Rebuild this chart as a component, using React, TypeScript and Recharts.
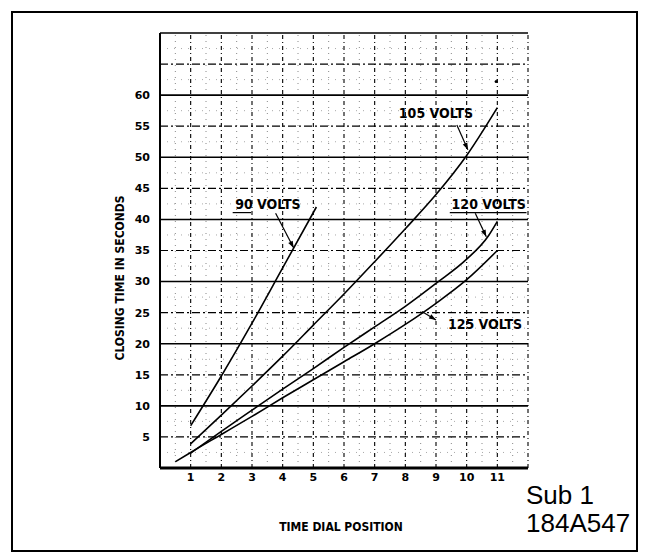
import {
  LineChart,
  Line,
  XAxis,
  YAxis,
  ReferenceLine,
  ReferenceDot,
} from 'recharts';

// dial position (x) vs closing time in seconds (y)
const VOLTS_90 = [
  { dial: 1, sec: 6.8 },
  { dial: 2, sec: 14.8 },
  { dial: 3, sec: 23.3 },
  { dial: 4, sec: 32.2 },
  { dial: 5.1, sec: 42 },
];

const VOLTS_105 = [
  { dial: 1, sec: 3.9 },
  { dial: 2, sec: 8.5 },
  { dial: 3, sec: 13.2 },
  { dial: 4, sec: 18 },
  { dial: 5, sec: 23 },
  { dial: 6, sec: 28 },
  { dial: 7, sec: 33.2 },
  { dial: 8, sec: 38.5 },
  { dial: 9, sec: 44 },
  { dial: 10, sec: 50.3 },
  { dial: 11, sec: 58 },
];

const VOLTS_120 = [
  { dial: 1, sec: 2.4 },
  { dial: 2, sec: 5.9 },
  { dial: 3, sec: 9.3 },
  { dial: 4, sec: 12.7 },
  { dial: 5, sec: 16 },
  { dial: 6, sec: 19.4 },
  { dial: 7, sec: 22.7 },
  { dial: 8, sec: 26 },
  { dial: 9, sec: 29.7 },
  { dial: 10, sec: 33.6 },
  { dial: 10.7, sec: 37.3 },
  { dial: 11, sec: 39.7 },
];

const VOLTS_125 = [
  { dial: 0.5, sec: 1 },
  { dial: 1, sec: 2.5 },
  { dial: 2, sec: 5.4 },
  { dial: 3, sec: 8.3 },
  { dial: 4, sec: 11.3 },
  { dial: 5, sec: 14.2 },
  { dial: 6, sec: 17.1 },
  { dial: 7, sec: 20 },
  { dial: 8, sec: 23.1 },
  { dial: 9, sec: 26.5 },
  { dial: 10, sec: 30.3 },
  { dial: 11, sec: 35 },
];

const SERIES = [
  { name: '90 VOLTS', data: VOLTS_90 },
  { name: '105 VOLTS', data: VOLTS_105 },
  { name: '120 VOLTS', data: VOLTS_120 },
  { name: '125 VOLTS', data: VOLTS_125 },
];

const X_TICKS = [1, 2, 3, 4, 5, 6, 7, 8, 9, 10, 11];
const Y_TICKS = [5, 10, 15, 20, 25, 30, 35, 40, 45, 50, 55, 60];
const GRID_Y = [5, 10, 15, 20, 25, 30, 35, 40, 45, 50, 55, 60, 65, 70];
const GRID_X = [1, 2, 3, 4, 5, 6, 7, 8, 9, 10, 11, 12];
const MINOR_X = [0.5, 1.5, 2.5, 3.5, 4.5, 5.5, 6.5, 7.5, 8.5, 9.5, 10.5, 11.5];
const MINOR_Y = [2.5, 7.5, 12.5, 17.5, 22.5, 27.5, 32.5, 37.5, 42.5, 47.5, 52.5, 57.5, 62.5, 67.5];

// curve call-outs (data units)
const CALLOUTS = [
  { text: '90 VOLTS', x: 3.52, y: 42.5 },
  { text: '105 VOLTS', x: 9.0, y: 57.2 },
  { text: '120 VOLTS', x: 10.72, y: 42.5 },
  { text: '125 VOLTS', x: 10.6, y: 23.2 },
];

// leader lines, arrow tip at the second point
const LEADERS = [
  [{ x: 3.77, y: 41 }, { x: 4.36, y: 35.4 }],
  [{ x: 9.68, y: 55.2 }, { x: 10.04, y: 51.2 }],
  [{ x: 10.28, y: 41 }, { x: 10.64, y: 37.2 }],
  [{ x: 8.54, y: 25.2 }, { x: 9.0, y: 23.8 }],
];

const UNDERLINES = [
  [{ x: 2.37, y: 41.1 }, { x: 2.97, y: 41.1 }],
  [{ x: 9.45, y: 41.1 }, { x: 11.95, y: 41.1 }],
];

const TICK_STYLE = {
  fill: '#000',
  fontSize: 11,
  fontWeight: 'bold',
  fontFamily: 'DejaVu Sans',
};

const calloutLabel = (text: string) => (props: any) => {
  const vb = props.viewBox || {};
  const cx = (vb.x ?? 0) + (vb.width ?? 0) / 2;
  const cy = (vb.y ?? 0) + (vb.height ?? 0) / 2;
  return (
    <text
      x={cx}
      y={cy}
      textAnchor="middle"
      dominantBaseline="central"
      fontFamily="DejaVu Sans Condensed"
      fontWeight="bold"
      fontSize={14}
      fill="#000"
    >
      {text}
    </text>
  );
};

// line with a small filled arrowhead at (x2, y2)
const ArrowLeader = (props: any) => {
  const { x1, y1, x2, y2 } = props;
  if ([x1, y1, x2, y2].some((v) => typeof v !== 'number')) return null;
  const a = Math.atan2(y2 - y1, x2 - x1);
  const len = 7;
  const w = 2.5;
  const bx = x2 - len * Math.cos(a);
  const by = y2 - len * Math.sin(a);
  const px = -Math.sin(a) * w;
  const py = Math.cos(a) * w;
  return (
    <g>
      <line x1={x1} y1={y1} x2={x2} y2={y2} stroke="#000" strokeWidth={1.2} />
      <path
        d={`M${x2},${y2}L${bx + px},${by + py}L${bx - px},${by - py}Z`}
        fill="#000"
      />
    </g>
  );
};

export default function App() {
  return (
    <div
      style={{
        position: 'absolute',
        left: 0,
        top: 0,
        width: 645,
        height: 554,
        background: '#fff',
      }}
    >
      <svg
        width={645}
        height={554}
        style={{ position: 'absolute', left: 0, top: 0 }}
      >
        <rect x={12} y={12} width={625} height={539} fill="none" stroke="#000" strokeWidth={2} />
        <text
          transform="translate(124,278) rotate(-90)"
          textAnchor="middle"
          fontFamily="DejaVu Sans Condensed"
          fontWeight="bold"
          fontSize={12}
          fill="#000"
        >
          CLOSING TIME IN SECONDS
        </text>
        <text
          x={341}
          y={531}
          textAnchor="middle"
          fontFamily="DejaVu Sans Condensed"
          fontWeight="bold"
          fontSize={12}
          fill="#000"
        >
          TIME DIAL POSITION
        </text>
        <text x={526} y={504} fontFamily="Liberation Sans" fontSize={26} fill="#000">
          Sub 1
        </text>
        <text x={526} y={532} fontFamily="Liberation Sans" fontSize={26} fill="#000">
          184A547
        </text>
      </svg>
      <div style={{ position: 'absolute', left: 0, top: 0 }}>
        <LineChart
          width={645}
          height={554}
          margin={{ top: 33, right: 117, bottom: 0, left: 0 }}
        >
          <XAxis
            type="number"
            dataKey="dial"
            domain={[0, 12]}
            ticks={X_TICKS}
            interval={0}
            allowDataOverflow
            height={86}
            tickLine={false}
            tickSize={0}
            tickMargin={5}
            axisLine={{ stroke: '#000', strokeWidth: 3 }}
            tick={TICK_STYLE}
          />
          <YAxis
            type="number"
            dataKey="sec"
            domain={[0, 70]}
            ticks={Y_TICKS}
            interval={0}
            allowDataOverflow
            width={160}
            tickLine={false}
            tickSize={0}
            tickMargin={10}
            axisLine={{ stroke: '#000', strokeWidth: 2 }}
            tick={TICK_STYLE}
          />
          {MINOR_X.map((v) => (
            <ReferenceLine
              key={`mx-${v}`}
              x={v}
              stroke="#888"
              strokeWidth={1}
              strokeDasharray="1 5"
            />
          ))}
          {MINOR_Y.map((v) => (
            <ReferenceLine
              key={`my-${v}`}
              y={v}
              stroke="#aaa"
              strokeWidth={1}
              strokeDasharray="1 6"
            />
          ))}
          {GRID_X.map((v) => (
            <ReferenceLine
              key={`gx-${v}`}
              x={v}
              stroke="#000"
              strokeWidth={1.1}
              strokeDasharray="4 3 1 3"
            />
          ))}
          {GRID_Y.map((v) => (
            <ReferenceLine
              key={`gy-${v}`}
              y={v}
              stroke="#000"
              strokeWidth={v % 10 === 0 ? 1.6 : 1.2}
              strokeDasharray={v % 10 === 0 ? undefined : '8 3 2 3'}
            />
          ))}
          {SERIES.map((s) => (
            <Line
              key={s.name}
              data={s.data}
              dataKey="sec"
              name={s.name}
              type="monotone"
              stroke="#000"
              strokeWidth={1.6}
              dot={false}
              activeDot={false}
              isAnimationActive={false}
            />
          ))}
          {LEADERS.map((seg, i) => (
            <ReferenceLine key={`ld-${i}`} segment={seg} shape={ArrowLeader} />
          ))}
          {UNDERLINES.map((seg, i) => (
            <ReferenceLine
              key={`ul-${i}`}
              segment={seg}
              stroke="#000"
              strokeWidth={1.2}
            />
          ))}
          {CALLOUTS.map((c) => (
            <ReferenceDot
              key={c.text}
              x={c.x}
              y={c.y}
              r={1}
              fill="none"
              stroke="none"
              label={{ content: calloutLabel(c.text) }}
            />
          ))}
          <ReferenceDot x={10.96} y={62.2} r={1.5} fill="#000" stroke="none" />
        </LineChart>
      </div>
    </div>
  );
}
